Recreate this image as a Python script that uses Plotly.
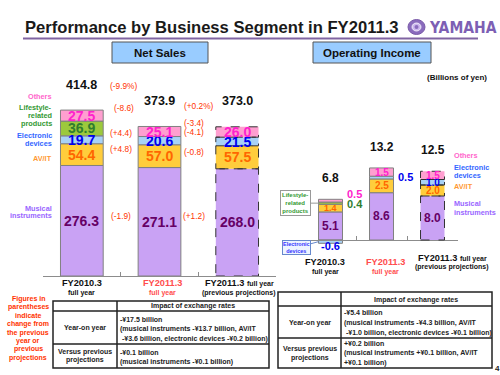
import plotly.graph_objects as go

FONT = "Arial, Liberation Sans, Helvetica, sans-serif"
NARROW = "Liberation Sans Narrow, Arial Narrow, DejaVu Sans Condensed, Arial, sans-serif"
W, H = 500, 375

# ---------------- data ----------------
categories = ["FY2010.3", "FY2011.3", "FY2011.3 prev"]

# Net sales (billions of yen)
ns_musical = [276.3, 271.1, 268.0]
ns_avit = [54.4, 57.0, 57.5]
ns_electronic = [19.7, 20.6, 21.5]
ns_lifestyle = [36.9, None, None]
ns_others = [27.5, 25.1, 26.0]
ns_totals = [414.8, 373.9, 373.0]

# Operating income (billions of yen)
oi_musical = [5.1, 8.6, 8.0]
oi_avit = [1.4, 2.5, 2.0]
oi_lifestyle = [0.4, None, None]
oi_electronic = [-0.6, 0.5, 1.0]
oi_others = [0.5, 1.5, 1.5]
oi_totals = [6.8, 13.2, 12.5]

chg_yoy = ["(-9.9%)", "(-8.6)", "(+4.4)", "(+4.8)", "(-1.9)"]
chg_proj = ["(+0.2%)", "(-3.4)", "(-4.1)", "(-0.8)", "(+1.2)"]

# ---------------- styles ----------------
FILL = {"mus": "#c9a2f4", "av": "#ffcd3c", "el": "#a8d2f6", "life": "#9cc93c", "oth": "#ff9fd0"}
VAL = {"mus": "#660066", "av": "#ff6600", "el": "#0000ee", "life": "#2f7d2f", "oth": "#ff22cc"}
LEG = {"mus": "#9966ff", "av": "#ff9933", "el": "#3366ff", "life": "#339933", "oth": "#ff66cc"}
EDGE = "#808080"
RED = "#ff3300"


def PX(x):
    return x / W


def PY(y):
    return 1 - y / H


ann = []
shapes = []


def txt(x, y, s, size, color="#000000", bold=True, xanchor="center", yanchor="middle", align="center", family=FONT):
    ann.append(dict(x=PX(x), y=PY(y), xref="paper", yref="paper",
                    text=("<b>%s</b>" % s) if bold else s, showarrow=False,
                    font=dict(size=size, color=color, family=family),
                    xanchor=xanchor, yanchor=yanchor, align=align))


fig = go.Figure()

ns_series = [("mus", ns_musical), ("av", ns_avit), ("el", ns_electronic), ("life", ns_lifestyle), ("oth", ns_others)]
oi_series = [("mus", oi_musical), ("av", oi_avit), ("life", oi_lifestyle), ("el", oi_electronic), ("oth", oi_others)]

NS_W = 0.55
OI_W = 0.47

for key, vals in ns_series:
    fig.add_trace(go.Bar(x=categories, y=vals, xaxis="x", yaxis="y", width=NS_W,
                         marker=dict(color=FILL[key], line=dict(color=EDGE, width=[1, 1, 0])),
                         hoverinfo="skip"))
for key, vals in oi_series:
    fig.add_trace(go.Bar(x=categories, y=vals, xaxis="x2", yaxis="y2", width=OI_W,
                         marker=dict(color=FILL[key], line=dict(color=EDGE, width=[1, 1, 0])),
                         hoverinfo="skip"))

# ---------- net sales value labels & dashed projection bar ----------
for i in range(3):
    base = 0.0
    for key, vals in ns_series:
        v = vals[i]
        if v is None:
            continue
        ann.append(dict(x=i, y=base + v / 2, xref="x", yref="y", text="<b>%.1f</b>" % v,
                        showarrow=False, font=dict(size=14, color=VAL[key], family=FONT)))
        if i == 2:
            shapes.append(dict(type="rect", xref="x", yref="y", x0=i - NS_W / 2, x1=i + NS_W / 2,
                               y0=base, y1=base + v, line=dict(color="#333333", width=1, dash="dash")))
        base += v
    ann.append(dict(x=i, y=base, xref="x", yref="y", text="<b>%.1f</b>" % ns_totals[i],
                    showarrow=False, yshift=25.5, font=dict(size=12.5, color="#111111", family=FONT)))

# ---------- operating income value labels ----------
for i in range(3):
    pos = 0.0
    neg = 0.0
    for key, vals in oi_series:
        v = vals[i]
        if v is None:
            continue
        if v < 0:
            y0, y1 = neg + v, neg
            neg += v
        else:
            y0, y1 = pos, pos + v
            pos += v
        mid = (y0 + y1) / 2
        size = 12 if key == "mus" else 10
        d = dict(xref="x2", yref="y2", text="<b>%.1f</b>" % v, showarrow=False,
                 font=dict(size=size, color=VAL[key], family=FONT))
        if v < 0:
            d.update(x=i, y=y0, yshift=-3, font=dict(size=11, color=VAL[key], family=FONT))
        elif abs(v) < 0.6 and key != "av":
            shift = 7 if key == "oth" else (-1 if key == "life" else 1)
            d.update(x=i + OI_W / 2, y=mid, xanchor="left", xshift=3, yshift=shift,
                     font=dict(size=11, color=VAL[key], family=FONT))
        else:
            if key == "av" and v < 2:
                d["font"] = dict(size=9, color=VAL[key], family=FONT)
            d.update(x=i, y=mid)
        ann.append(d)
        if i == 2:
            shapes.append(dict(type="rect", xref="x2", yref="y2", x0=i - OI_W / 2, x1=i + OI_W / 2,
                               y0=y0, y1=y1, line=dict(color="#333333", width=1, dash="dash")))
    ann.append(dict(x=i, y=pos, xref="x2", yref="y2", text="<b>%.1f</b>" % oi_totals[i],
                    showarrow=False, yshift=21, font=dict(size=12, color="#111111", family=FONT)))

# callouts on FY2010.3 operating income bar
life_y = oi_musical[0] + oi_avit[0] + oi_lifestyle[0] / 2
ann.append(dict(x=-OI_W / 2, y=life_y, xref="x2", yref="y2", ax=-23, ay=0,
                text="<b>Lifestyle-<br>related<br>products</b>", showarrow=True, arrowhead=0,
                arrowcolor="#999999", arrowwidth=1, bgcolor="#ffffff", bordercolor="#999999",
                borderwidth=1, borderpad=1, font=dict(size=6, color="#339933", family=FONT)))
ann.append(dict(x=-OI_W / 2, y=oi_electronic[0] / 2, xref="x2", yref="y2", ax=-22, ay=6,
                text="<b>Electronic<br>devices</b>", showarrow=True, arrowhead=0,
                arrowcolor="#6688cc", arrowwidth=1, bgcolor="#eef4ff", bordercolor="#6688cc",
                borderwidth=1, borderpad=0, font=dict(size=5.5, color="#3333ff", family=FONT)))

# ---------------- header ----------------
txt(23, 27.5, "Performance by Business Segment in FY2011.3", 16.6, "#1a1a1a", xanchor="left")
shapes.append(dict(type="line", xref="paper", yref="paper", x0=PX(23), x1=PX(478), y0=PY(38.5), y1=PY(38.5),
                   line=dict(color="#8064a2", width=2)))
shapes.append(dict(type="circle", xref="paper", yref="paper", x0=PX(408), x1=PX(425), y0=PY(34.5), y1=PY(19.5),
                   fillcolor="#8a6bbd", line=dict(color="#7a5aa8", width=1)))
shapes.append(dict(type="circle", xref="paper", yref="paper", x0=PX(412), x1=PX(421), y0=PY(31), y1=PY(23),
                   fillcolor="#cdb8ee", line=dict(color="#ffffff", width=0.8)))
shapes.append(dict(type="circle", xref="paper", yref="paper", x0=PX(414.5), x1=PX(418.5), y0=PY(29), y1=PY(25),
                   fillcolor="#8a6bbd", line=dict(width=0)))
txt(427, 27.5, "YAMAHA", 15.5, "#7d5fb4", xanchor="left", family=NARROW)

for x0, x1, label in [(112, 208, "Net Sales"), (313, 431, "Operating Income")]:
    shapes.append(dict(type="rect", xref="paper", yref="paper", x0=PX(x0), x1=PX(x1), y0=PY(63), y1=PY(42),
                       fillcolor="#99ccff", line=dict(color="#555555", width=1)))
    txt((x0 + x1) / 2, 52.5, label, 11.5, "#111111")

txt(489, 77, "(Billions of yen)", 8, "#111111", xanchor="right")

# ---------------- segment legends ----------------
for y, s, k in [(96.5, "Others", "oth"), (107.5, "Lifestyle-", "life"), (115.5, "related", "life"),
                (123.5, "products", "life"), (135.5, "Electronic", "el"), (143.5, "devices", "el"),
                (158, "AV/IT", "av"), (208, "Musical", "mus"), (216, "instruments", "mus")]:
    txt(54, y, s, 7.3, LEG[k], xanchor="right")
for y, s, k in [(155, "Others", "oth"), (167, "Electronic", "el"), (175.5, "devices", "el"), (187, "AV/IT", "av"),
                (203, "Musical", "mus"), (212, "instruments", "mus")]:
    txt(452, y, s, 7.3, LEG[k], xanchor="left")

# ---------------- change labels ----------------
for s, (x, y) in zip(chg_yoy, [(123.5, 86), (124, 108), (121, 133), (121, 149), (121, 216)]):
    txt(x, y, s, 8.3, RED, bold=False)
for s, (x, y) in zip(chg_proj, [(198.5, 106), (194, 123), (194, 132), (194, 152), (194, 216)]):
    txt(x, y, s, 8.3, RED, bold=False)

# ---------------- category labels ----------------
SMALL = "<span style='font-size:7px'>%s</span>"
LBL = 9.2
SUB = 7
txt(81.5, 283, categories[0], LBL, "#111111")
txt(81.5, 293, "full year", SUB, "#111111")
txt(162, 283, categories[1], LBL, "#ff4d4d")
txt(162, 293, "full year", SUB, "#ff4d4d")
txt(239, 283, "FY2011.3 " + SMALL % "full year", LBL, "#111111")
txt(239, 293, "(previous projections)", SUB, "#111111")

txt(325, 262, categories[0], LBL, "#111111")
txt(325, 272, "full year", SUB, "#111111")
txt(385, 262, categories[1], LBL, "#ff4d4d")
txt(385, 272, "full year", SUB, "#ff4d4d")
txt(452, 258, "FY2011.3 " + SMALL % "full year", LBL, "#111111")
txt(452, 267, "(previous projections)", SUB, "#111111")

# ---------------- note ----------------
for k, s in enumerate(["Figures in", "parentheses", "indicate", "change from", "the previous",
                       "year or", "previous", "projections"]):
    txt(28, 299 + k * 8.4, s, 7, RED)


# ---------------- tables ----------------
def table(x0, x1, xs, y0, yh, yr, y1):
    shapes.append(dict(type="rect", xref="paper", yref="paper", x0=PX(x0), x1=PX(x1), y0=PY(y1), y1=PY(y0),
                       line=dict(color="#222222", width=1.5)))
    for yy in (yh, yr):
        shapes.append(dict(type="line", xref="paper", yref="paper", x0=PX(x0), x1=PX(x1), y0=PY(yy), y1=PY(yy),
                           line=dict(color="#222222", width=1.5)))
    shapes.append(dict(type="line", xref="paper", yref="paper", x0=PX(xs), x1=PX(xs), y0=PY(y1), y1=PY(y0),
                       line=dict(color="#222222", width=1.5)))


TC = "#222222"
table(53, 269, 117, 301, 311, 344, 368)
txt(193, 306, "Impact of exchange rates", 7, TC)
txt(85, 327.5, "Year-on year", 7, TC)
txt(85, 352, "Versus previous", 7, TC)
txt(85, 360, "projections", 7, TC)
for y, s in [(319, "-¥17.5 billion"), (329, "(musical instruments -¥13.7 billion, AV/IT"),
             (339, " -¥3.6 billion, electronic devices -¥0.2 billion)"),
             (352, "-¥0.1 billion"), (362, "(musical instruments -¥0.1 billion)")]:
    txt(118, y, s, 7, TC, xanchor="left")

table(278, 492, 341, 292, 306, 338, 368)
txt(416, 299.5, "Impact of exchange rates", 7, TC)
txt(310, 322.5, "Year-on year", 7, TC)
txt(310, 349, "Versus previous", 7, TC)
txt(310, 357.5, "projections", 7, TC)
for y, s in [(312, "-¥5.4 billion"), (323, "(musical instruments -¥4.3 billion, AV/IT"),
             (333, " -¥1.0 billion, electronic devices -¥0.1 billion)"),
             (343, "+¥0.2 billion"), (353, "(musical instruments +¥0.1 billion, AV/IT"),
             (363, "+¥0.1 billion)")]:
    txt(342, y, s, 7, TC, xanchor="left")
txt(497, 368, "4", 8, TC)

# ---------------- axes ----------------
oi_range = [-2, 16]
oi_dom = [PY(251), PY(152)]
oi_zero = oi_dom[0] + (0 - oi_range[0]) / (oi_range[1] - oi_range[0]) * (oi_dom[1] - oi_dom[0])

axis_common = dict(type="category", range=[-0.5, 2.5], showline=True, linecolor="#8c8c8c", linewidth=1,
                   ticks="inside", ticklen=4, tickcolor="#8c8c8c", tickson="boundaries",
                   showticklabels=False, showgrid=False, zeroline=False, fixedrange=True)

fig.update_layout(
    width=W, height=H, margin=dict(l=0, r=0, t=0, b=0),
    paper_bgcolor="#ffffff", plot_bgcolor="rgba(0,0,0,0)",
    barmode="relative", showlegend=False,
    xaxis=dict(domain=[PX(43), PX(276)], anchor="y", **axis_common),
    yaxis=dict(domain=[PY(276), PY(96)], range=[0, 450], visible=False, fixedrange=True),
    xaxis2=dict(domain=[PX(305), PX(458)], anchor="free", position=oi_zero, **axis_common),
    yaxis2=dict(domain=oi_dom, range=oi_range, anchor="x2", visible=False, fixedrange=True),
    annotations=ann, shapes=shapes,
    font=dict(family=FONT),
)

fig.write_html("out.html", config={"displayModeBar": False},
               post_script="document.body.style.margin='0px';document.body.style.overflow='hidden';")
